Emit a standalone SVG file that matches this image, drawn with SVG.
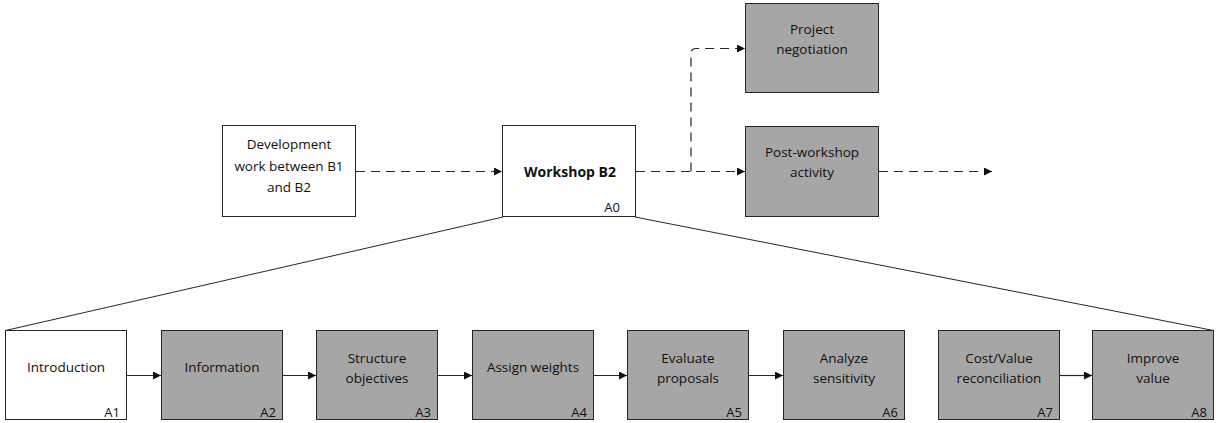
<svg xmlns="http://www.w3.org/2000/svg" width="1216" height="423" viewBox="0 0 1216 423">
  <style>
    .box { stroke: #262626; stroke-width: 1; }
    .white { fill: #ffffff; }
    .grey { fill: #a6a6a6; }
    .lbl { font-family: "Open Sans", "Liberation Sans", sans-serif; font-size: 13.5px; fill: #111111; text-anchor: middle; }
    .bold { font-weight: bold; font-size: 14px; }
    .code { font-family: "Open Sans", "Liberation Sans", sans-serif; font-size: 13px; fill: #111111; text-anchor: end; }
    .solid { fill: none; stroke: #262626; stroke-width: 1.2; }
    .dash { fill: none; stroke: #262626; stroke-width: 1.2; stroke-dasharray: 9 6; }
    .thin { fill: none; stroke: #262626; stroke-width: 1; }
  </style>
  <defs>
    <marker id="head" viewBox="0 0 10 10" refX="10" refY="5" markerWidth="8" markerHeight="8" markerUnits="userSpaceOnUse" orient="auto">
      <path d="M0,0 L10,5 L0,10 Z" fill="#111111"/>
    </marker>
  </defs>

  <rect width="1216" height="423" fill="#ffffff"/>

  <!-- connectors -->
  <g id="connectors">
    <!-- decomposition lines from A0 -->
    <line class="thin" x1="503" y1="217" x2="5.5" y2="330.5"/>
    <line class="thin" x1="635" y1="217" x2="1213.5" y2="330.5"/>
    <!-- dashed flow at top level -->
    <path class="dash" d="M356,171.5 H502" marker-end="url(#head)"/>
    <path class="dash" d="M636,171.5 H745" marker-end="url(#head)"/>
    <path class="dash" d="M691,171.5 V53.5 Q691,48.5 696,48.5 H745" marker-end="url(#head)"/>
    <path class="dash" d="M879,171.5 H992" marker-end="url(#head)"/>
    <!-- solid flow between activities -->
    <path class="solid" d="M127,375.5 H161" marker-end="url(#head)"/>
    <path class="solid" d="M283,375.5 H316" marker-end="url(#head)"/>
    <path class="solid" d="M438,375.5 H472" marker-end="url(#head)"/>
    <path class="solid" d="M594,375.5 H627" marker-end="url(#head)"/>
    <path class="solid" d="M749,375.5 H783" marker-end="url(#head)"/>
    <path class="solid" d="M1060,375.5 H1092" marker-end="url(#head)"/>
  </g>

  <!-- top level -->
  <g id="development">
    <rect class="box white" x="222.5" y="125.5" width="133" height="91"/>
    <text class="lbl" x="289" y="149">Development</text>
    <text class="lbl" x="289" y="170.5">work between B1</text>
    <text class="lbl" x="289" y="192">and B2</text>
  </g>
  <g id="workshop-b2">
    <rect class="box white" x="502.5" y="125.5" width="133" height="91"/>
    <text class="lbl bold" x="570" y="176.5">Workshop B2</text>
    <text class="code" x="620" y="212">A0</text>
  </g>
  <g id="project-negotiation">
    <rect class="box grey" x="745.5" y="3.5" width="133" height="89"/>
    <text class="lbl" x="812" y="33.5">Project</text>
    <text class="lbl" x="812" y="53.5">negotiation</text>
  </g>
  <g id="post-workshop">
    <rect class="box grey" x="745.5" y="126.5" width="133" height="90"/>
    <text class="lbl" x="812" y="157">Post-workshop</text>
    <text class="lbl" x="812" y="177">activity</text>
  </g>

  <!-- workshop activities -->
  <g id="a1">
    <rect class="box white" x="5.5" y="330.5" width="121" height="89"/>
    <text class="lbl" x="66" y="372">Introduction</text>
    <text class="code" x="120" y="417">A1</text>
  </g>
  <g id="a2">
    <rect class="box grey" x="161.5" y="330.5" width="121" height="89"/>
    <text class="lbl" x="222" y="372">Information</text>
    <text class="code" x="276" y="417">A2</text>
  </g>
  <g id="a3">
    <rect class="box grey" x="316.5" y="330.5" width="121" height="89"/>
    <text class="lbl" x="377" y="363">Structure</text>
    <text class="lbl" x="377" y="383">objectives</text>
    <text class="code" x="431" y="417">A3</text>
  </g>
  <g id="a4">
    <rect class="box grey" x="472.5" y="330.5" width="121" height="89"/>
    <text class="lbl" x="533" y="372">Assign weights</text>
    <text class="code" x="587" y="417">A4</text>
  </g>
  <g id="a5">
    <rect class="box grey" x="627.5" y="330.5" width="121" height="89"/>
    <text class="lbl" x="688" y="363">Evaluate</text>
    <text class="lbl" x="688" y="383">proposals</text>
    <text class="code" x="742" y="417">A5</text>
  </g>
  <g id="a6">
    <rect class="box grey" x="783.5" y="330.5" width="121" height="89"/>
    <text class="lbl" x="844" y="363">Analyze</text>
    <text class="lbl" x="844" y="383">sensitivity</text>
    <text class="code" x="898" y="417">A6</text>
  </g>
  <g id="a7">
    <rect class="box grey" x="938.5" y="330.5" width="121" height="89"/>
    <text class="lbl" x="999" y="363">Cost/Value</text>
    <text class="lbl" x="999" y="383">reconciliation</text>
    <text class="code" x="1053" y="417">A7</text>
  </g>
  <g id="a8">
    <rect class="box grey" x="1092.5" y="330.5" width="121" height="89"/>
    <text class="lbl" x="1153" y="363">Improve</text>
    <text class="lbl" x="1153" y="383">value</text>
    <text class="code" x="1207" y="417">A8</text>
  </g>
</svg>
